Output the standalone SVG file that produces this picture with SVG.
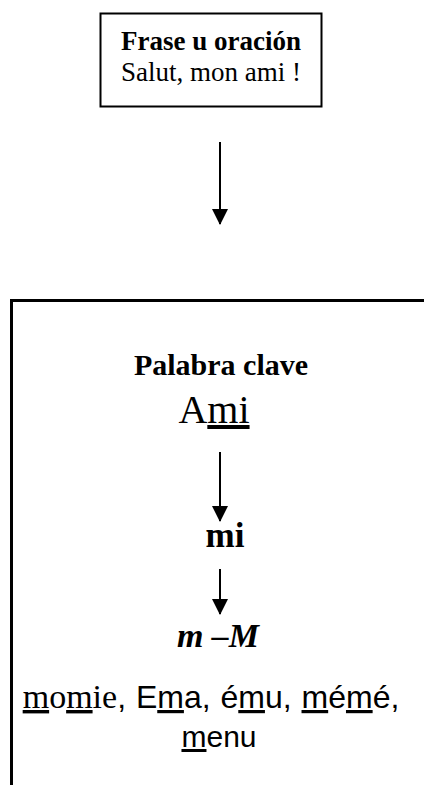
<svg xmlns="http://www.w3.org/2000/svg" width="424" height="785" viewBox="0 0 424 785">
<style>
.serif{font-family:"Liberation Serif","Times New Roman",serif;fill:#000}
.sans{font-family:"Liberation Sans",Arial,sans-serif;fill:#000}
.b{font-weight:bold}
.u{text-decoration:underline}
.box{fill:none;stroke:#000}
.conn{stroke:#000;stroke-width:2;fill:none}
</style>
<defs>
<marker id="ah" markerWidth="8" markerHeight="8" refX="7.5" refY="4" orient="auto" markerUnits="strokeWidth">
<path d="M0,0 L8,4 L0,8 Z" fill="#000"/>
</marker>
</defs>
<g id="frase">
<rect class="box" x="100.5" y="13.5" width="221" height="93" stroke-width="2"/>
<text class="serif b" x="211" y="50" font-size="27" text-anchor="middle">Frase u oración</text>
<text class="serif" x="211" y="81" font-size="27" text-anchor="middle">Salut, mon ami !</text>
</g>
<g id="palabra">
<path class="box" d="M11.5,785 V300.5 H424" stroke-width="3"/>
<text class="serif b" x="221" y="375" font-size="30" text-anchor="middle">Palabra clave</text>
<text class="serif" x="214" y="423" font-size="40" text-anchor="middle">A<tspan class="u">mi</tspan></text>
<text class="serif b" x="225" y="547" font-size="35" text-anchor="middle">mi</text>
<text class="serif b" x="218" y="647" font-size="34" font-style="italic" text-anchor="middle">m –M</text>
<text x="211" y="708" font-size="32" word-spacing="1" text-anchor="middle"><tspan class="serif" font-size="34"><tspan class="u">m</tspan>o<tspan class="u">m</tspan>ie</tspan><tspan class="sans">, E<tspan class="u">m</tspan>a, é<tspan class="u">m</tspan>u, <tspan class="u">m</tspan>é<tspan class="u">m</tspan>é,</tspan></text>
<text class="sans" x="219" y="747" font-size="30" text-anchor="middle"><tspan class="u">m</tspan>enu</text>
</g>
<g id="connectors">
<line class="conn" x1="220" y1="142" x2="220" y2="224" marker-end="url(#ah)"/>
<line class="conn" x1="220" y1="452" x2="220" y2="521" marker-end="url(#ah)"/>
<line class="conn" x1="220" y1="569" x2="220" y2="614" marker-end="url(#ah)"/>
</g>
</svg>
